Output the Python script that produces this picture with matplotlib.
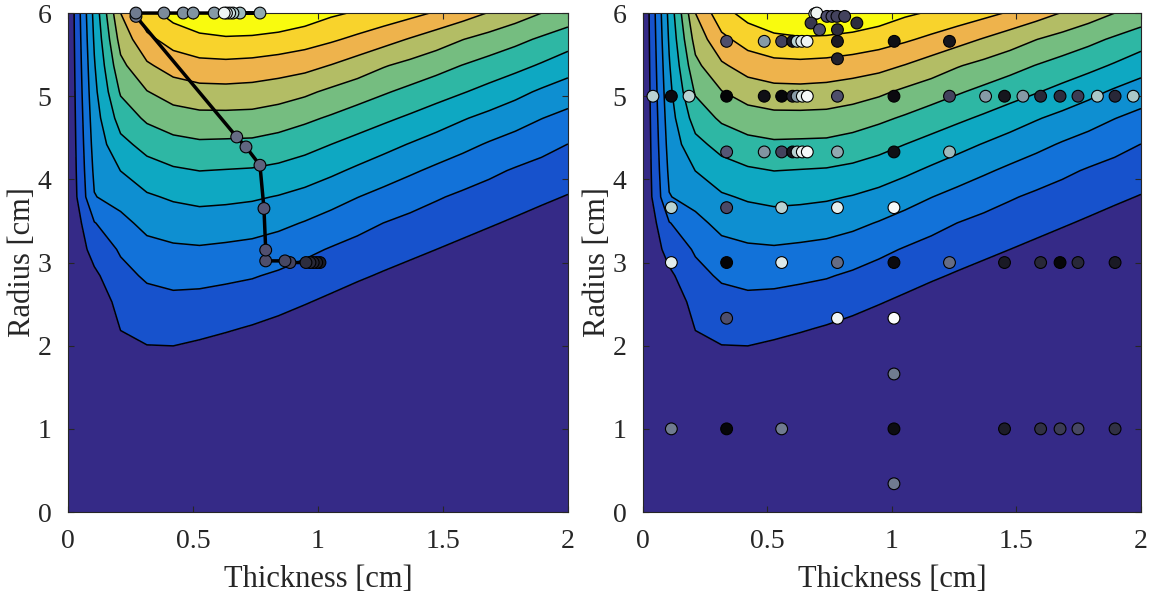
import numpy as np
import matplotlib
matplotlib.use("Agg")
import matplotlib.pyplot as plt

plt.rcParams['font.family'] = ['Liberation Serif', 'DejaVu Serif']

# grid of the map
thickness = np.linspace(0, 2, 20)
radius = np.linspace(0, 6, 20)

# map values, one row per radius (bottom row first)
z_r0 = [0.0] * 20
z_r1 = [0.0] * 20
z_r2 = [0.0] * 20
z_r3 = [0.0] * 20
z_r4 = [0, 0, 0, 0.02, 0, 0, 0, 0, 0, 0, 0, 0, 0, 0, 0, 0, 0, 0, 0, 0]
z_r5 = [0, 0, 0.35, 0.43, 0.38, 0.22, 0.02, 0, 0, 0, 0, 0, 0, 0, 0, 0, 0, 0, 0, 0]
z_r6 = [0, 0, 0.69, 0.85, 0.85, 0.72, 0.55, 0.37, 0.17, 0, 0, 0, 0, 0, 0, 0, 0, 0, 0, 0]
z_r7 = [0, 0, 1.03, 1.26, 1.31, 1.22, 1.09, 0.93, 0.73, 0.51, 0.26, 0.02, 0, 0, 0, 0, 0, 0, 0, 0]
z_r8 = [0, 0.23, 1.38, 1.68, 1.77, 1.72, 1.62, 1.49, 1.30, 1.06, 0.82, 0.57, 0.36, 0.15,
        0, 0, 0, 0, 0, 0]
z_r9 = [0, 0.80, 1.72, 2.13, 2.29, 2.28, 2.18, 2.07, 1.86, 1.62, 1.37, 1.13, 0.90, 0.68,
        0.46, 0.25, 0.04, 0, 0, 0]
z_r10 = [0, 1.38, 2.11, 2.69, 2.85, 2.90, 2.82, 2.72, 2.52, 2.22, 1.93, 1.68, 1.44, 1.22,
         1.00, 0.78, 0.56, 0.36, 0.11, 0]
z_r11 = [0, 1.95, 2.72, 3.28, 3.47, 3.56, 3.50, 3.41, 3.22, 2.94, 2.62, 2.30, 1.99, 1.75,
         1.53, 1.31, 1.09, 0.87, 0.64, 0.43]
z_r12 = [0, 2.96, 3.35, 3.88, 4.12, 4.26, 4.21, 4.12, 3.95, 3.71, 3.38, 3.02, 2.70, 2.39,
         2.09, 1.83, 1.62, 1.39, 1.17, 0.95]
z_r13 = [0, 3.18, 4.01, 4.58, 4.87, 5.01, 4.96, 4.91, 4.76, 4.51, 4.19, 3.83, 3.48, 3.14,
         2.81, 2.50, 2.19, 1.91, 1.69, 1.47]
z_r14 = [0, 3.37, 4.71, 5.34, 5.69, 5.84, 5.81, 5.78, 5.60, 5.34, 5.00, 4.66, 4.31, 3.95,
         3.59, 3.26, 2.91, 2.61, 2.30, 1.99]
z_r15 = [0, 3.55, 5.42, 6.17, 6.55, 6.71, 6.71, 6.68, 6.49, 6.20, 5.88, 5.53, 5.19, 4.85,
         4.48, 4.08, 3.73, 3.39, 3.02, 2.71]
z_r16 = [0, 3.74, 6.11, 6.96, 7.45, 7.66, 7.69, 7.63, 7.46, 7.19, 6.80, 6.46, 6.10, 5.75,
         5.41, 5.06, 4.69, 4.28, 3.85, 3.51]
z_r17 = [0, 3.92, 6.74, 7.85, 8.43, 8.69, 8.73, 8.66, 8.51, 8.32, 7.96, 7.53, 7.07, 6.71,
         6.35, 5.97, 5.62, 5.29, 4.89, 4.43]
z_r18 = [0, 4.11, 7.37, 8.75, 9.42, 9.75, 9.87, 9.82, 9.67, 9.44, 9.14, 8.78, 8.37, 7.93,
         7.48, 7.02, 6.64, 6.26, 5.86, 5.48]
z_r19 = [0, 4.29, 8.00, 9.66, 10.35, 10.80, 11.04, 11.04, 10.88, 10.57, 10.16, 9.90, 9.63,
         9.29, 8.90, 8.45, 7.95, 7.48, 7.00, 6.59]

Z = np.array([z_r0, z_r1, z_r2, z_r3, z_r4, z_r5, z_r6, z_r7, z_r8, z_r9, z_r10,
              z_r11, z_r12, z_r13, z_r14, z_r15, z_r16, z_r17, z_r18, z_r19], dtype=float)

levels = [-1, 1, 2, 3, 4, 5, 6, 7, 8, 9, 10, 13]
band_colors = ['#352a87', '#1752cc', '#1272d9', '#0e8fd1', '#0ea8c2', '#2eb7a4',
               '#75bd80', '#b3bd65', '#eeb34c', '#f8d32c', '#f9fb0e']

# left: optimisation path
path_x = [1.008, 0.995, 0.981, 0.968, 0.952, 0.888, 0.868, 0.791, 0.791, 0.784, 0.768, 0.712,
          0.675, 0.272, 0.272, 0.384, 0.461, 0.501, 0.585, 0.768, 0.688, 0.66, 0.647, 0.634, 0.625]
path_y = [3.0, 3.0, 3.0, 3.0, 3.0, 3.0, 3.02, 3.02, 3.15, 3.65, 4.17, 4.39,
          4.51, 5.96, 6.0, 6.0, 6.0, 6.0, 6.0, 6.0, 6.0, 6.0, 6.0, 6.0, 6.0]
path_shade = [0.12, 0.14, 0.16, 0.18, 0.2, 0.3, 0.32, 0.35, 0.36, 0.38, 0.42, 0.43,
              0.45, 0.47, 0.5, 0.55, 0.57, 0.58, 0.6, 0.65, 0.7, 0.78, 0.85, 0.9, 0.95]

# right: sampled designs
pts_x = [0.69, 0.698, 0.675, 0.709, 0.739, 0.759, 0.779, 0.781, 0.81, 0.859,
         0.336, 0.487, 0.557, 0.601, 0.619, 0.638, 0.659, 0.781, 1.009, 1.231,
         0.781,
         0.04, 0.114, 0.185, 0.336, 0.487, 0.557, 0.601, 0.619, 0.64, 0.66, 0.781, 1.008,
         1.231, 1.376, 1.452, 1.526, 1.597, 1.675, 1.747, 1.825, 1.896, 1.969,
         0.336, 0.487, 0.557, 0.601, 0.619, 0.64, 0.66, 0.781, 1.008, 1.231,
         0.114, 0.336, 0.557, 0.781, 1.008,
         0.114, 0.336, 0.557, 0.781, 1.008, 1.231, 1.452, 1.597, 1.675, 1.747, 1.896,
         0.336, 0.781, 1.008,
         1.008,
         0.114, 0.336, 0.557, 1.008, 1.452, 1.597, 1.675, 1.747, 1.896,
         1.008]
pts_y = [5.99, 6.0, 5.88, 5.80, 5.96, 5.96, 5.96, 5.80, 5.96, 5.88,
         5.66, 5.66, 5.66, 5.66, 5.66, 5.66, 5.66, 5.66, 5.66, 5.66,
         5.45,
         5.0, 5.0, 5.0, 5.0, 5.0, 5.0, 5.0, 5.0, 5.0, 5.0, 5.0, 5.0,
         5.0, 5.0, 5.0, 5.0, 5.0, 5.0, 5.0, 5.0, 5.0, 5.0,
         4.33, 4.33, 4.33, 4.33, 4.33, 4.33, 4.33, 4.33, 4.33, 4.33,
         3.66, 3.66, 3.66, 3.66, 3.66,
         3.0, 3.0, 3.0, 3.0, 3.0, 3.0, 3.0, 3.0, 3.0, 3.0, 3.0,
         2.33, 2.33, 2.33,
         1.66,
         1.0, 1.0, 1.0, 1.0, 1.0, 1.0, 1.0, 1.0, 1.0,
         0.34]
pts_shade = [0.85, 0.95, 0.25, 0.35, 0.35, 0.35, 0.3, 0.2, 0.3, 0.2,
             0.35, 0.6, 0.3, 0.12, 0.8, 0.9, 0.95, 0.12, 0.07, 0.1,
             0.15,
             0.8, 0.05, 0.8, 0.02, 0.07, 0.03, 0.15, 0.6, 0.9, 0.97, 0.35, 0.05,
             0.3, 0.6, 0.1, 0.6, 0.18, 0.2, 0.27, 0.75, 0.18, 0.75,
             0.38, 0.58, 0.3, 0.1, 0.8, 0.95, 0.97, 0.65, 0.07, 0.7,
             0.8, 0.33, 0.8, 0.92, 0.97,
             0.92, 0.02, 0.9, 0.45, 0.05, 0.45, 0.12, 0.18, 0.03, 0.18, 0.12,
             0.35, 0.95, 0.99,
             0.5,
             0.5, 0.03, 0.5, 0.06, 0.13, 0.22, 0.27, 0.32, 0.22,
             0.5]

fig = plt.figure(figsize=(11.56, 5.99), dpi=100)
ax1 = fig.add_axes([0.0588, 0.1452, 0.4325, 0.833])
ax2 = fig.add_axes([0.5562, 0.1452, 0.4308, 0.833])

for ax in (ax1, ax2):
    ax.contourf(thickness, radius, Z, levels=levels, colors=band_colors)
    ax.contour(thickness, radius, Z, levels=levels[1:-1], colors='k', linewidths=1.1)
    ax.set_xlim(0, 2)
    ax.set_ylim(0, 6)
    ax.set_xticks([0, 0.5, 1, 1.5, 2])
    ax.set_xticklabels(['0', '0.5', '1', '1.5', '2'])
    ax.set_yticks(range(7))
    ax.tick_params(labelsize=20, direction='in', length=4, top=True, right=True,
                   colors='#262626')
    ax.tick_params(axis='x', pad=12)
    ax.tick_params(axis='y', pad=12)
    for s in ax.spines.values():
        s.set_color('#262626')
        s.set_linewidth(0.8)
    ax.set_xlabel('Thickness [cm]', fontsize=22, color='#262626', labelpad=8)
    ax.set_ylabel('Radius [cm]', fontsize=22, color='#262626', labelpad=0)

ax1.plot(path_x, path_y, color='k', lw=2.5, zorder=3, clip_on=False)
ax1.scatter(path_x, path_y, c=path_shade, cmap='bone', vmin=0, vmax=1, s=72,
            edgecolors='k', linewidths=0.8, zorder=4, clip_on=False)

ax2.scatter(pts_x, pts_y, c=pts_shade, cmap='bone', vmin=0, vmax=1, s=72,
            edgecolors='k', linewidths=0.8, zorder=4, clip_on=False)

fig.savefig('out.png', dpi=100)
